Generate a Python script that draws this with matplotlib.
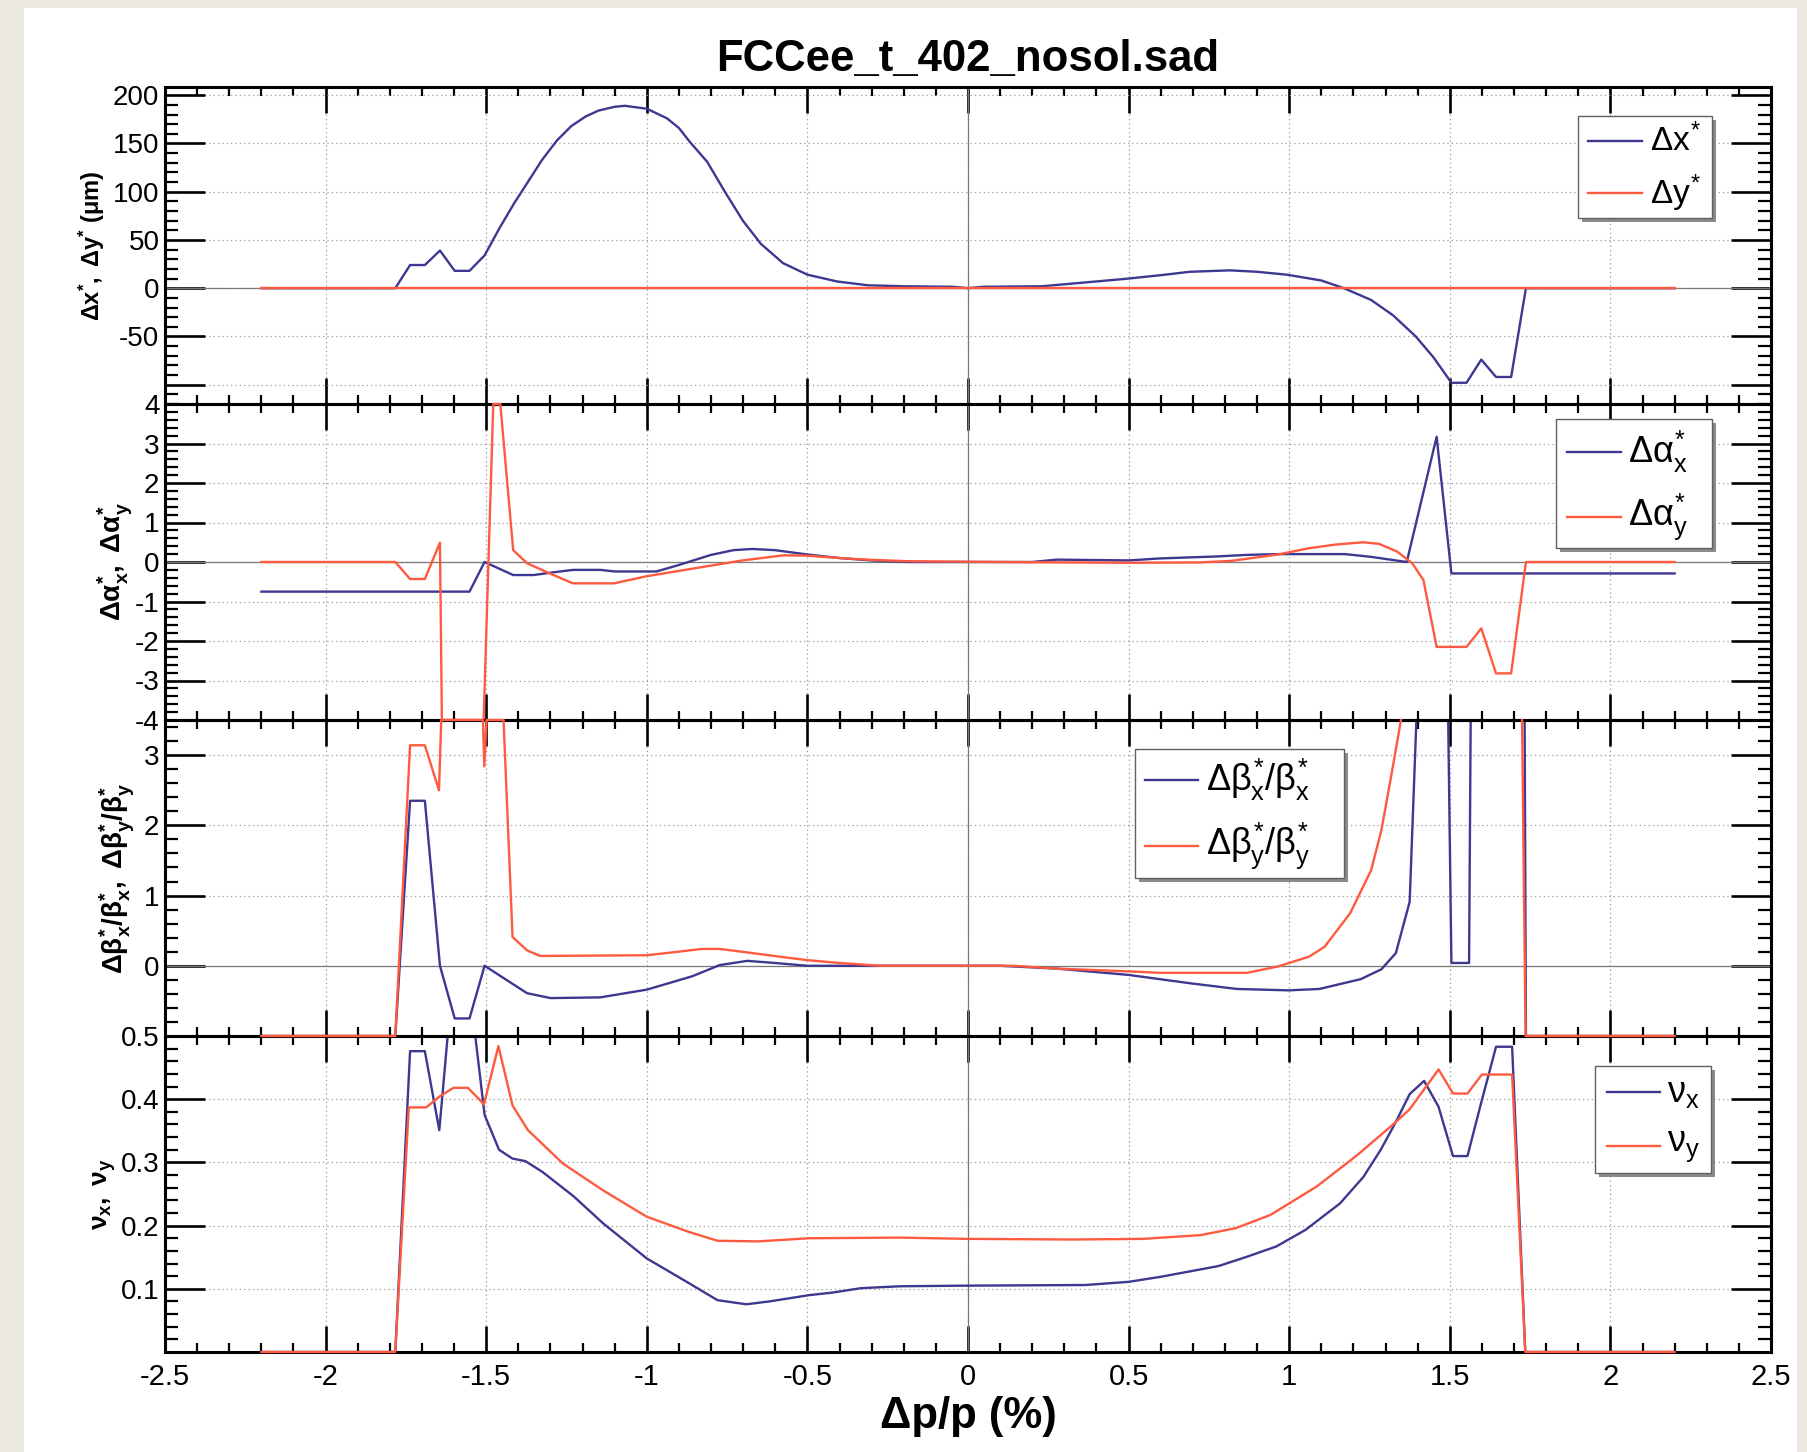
#!/usr/bin/env python3
#
# Off-momentum optics of FCCee_t_402_nosol.sad, ROOT style 4-panel plot.
#

import numpy as np
import matplotlib
matplotlib.use('Agg')
import matplotlib.pyplot as plt
from matplotlib.patches import Rectangle
from matplotlib.lines import Line2D
from matplotlib.ticker import FixedLocator, MultipleLocator, FuncFormatter

nan = np.nan

# ---- data: dp/p in %, one x list per curve ----

# Delta x* (um)
dx_dp = [-2.2, -1.783, -1.737, -1.691, -1.644, -1.598, -1.552, -1.505, -1.459, -1.413,
         -1.38, -1.326, -1.28, -1.235, -1.19, -1.151, -1.1, -1.068, -1.0, -0.937,
         -0.9, -0.867, -0.812, -0.757, -0.701, -0.645, -0.576, -0.5, -0.408, -0.311,
         -0.2, -0.047, 0.0, 0.047, 0.23, 0.4, 0.5, 0.6, 0.69, 0.815,
         0.9, 0.993, 1.1, 1.17, 1.254, 1.323, 1.394, 1.45, 1.505, 1.552,
         1.598, 1.644, 1.691, 1.737, 2.2]
dx_val = [0, 0, 24, 24, 39, 18, 18, 34, 62, 88,
          105, 133, 153, 168, 178, 184, 188, 189, 186, 176,
          166, 152, 131, 100, 70, 46, 26, 14, 7, 3,
          2, 1.5, 0, 1.5, 2, 7, 10, 13.5, 17, 18.5,
          17, 14, 8, 0, -12, -28, -50, -72, -98, -98,
          -74, -92, -92, 0, 0]

# Delta y* (um)
dy_dp = [-2.2, 2.2]
dy_val = [0, 0]

# Delta alpha*_x
dax_dp = [-2.2, -1.552, -1.505, -1.416, -1.352, -1.29, -1.23, -1.144, -1.1, -0.97,
          -0.902, -0.8, -0.73, -0.672, -0.601, -0.5, -0.4, -0.3, -0.187, 0.2,
          0.276, 0.5, 0.597, 0.773, 0.869, 0.965, 1.174, 1.255, 1.366, 1.459,
          1.505, 2.2]
dax_val = [-0.75, -0.75, 0.0, -0.33, -0.33, -0.26, -0.2, -0.2, -0.24, -0.24,
           -0.08, 0.18, 0.3, 0.33, 0.3, 0.19, 0.1, 0.04, 0.0, 0.0,
           0.06, 0.04, 0.09, 0.14, 0.18, 0.2, 0.2, 0.13, 0.0, 3.17,
           -0.29, -0.29]

# Delta alpha*_y (clipped to the frame where it runs off)
day_dp = [-2.2, -1.783, -1.737, -1.691, -1.644, -1.638, -1.508, -1.478, -1.456, -1.416,
          -1.373, -1.316, -1.23, -1.102, -1.0, -0.859, -0.702, -0.573, -0.5, -0.4,
          -0.315, -0.187, 0.1, 0.5, 0.725, 0.822, 0.965, 1.062, 1.143, 1.23,
          1.279, 1.335, 1.383, 1.418, 1.459, 1.552, 1.598, 1.644, 1.691, 1.737,
          2.2]
day_val = [0, 0, -0.43, -0.43, 0.49, -4, -4, 4, 4, 0.3,
           -0.03, -0.24, -0.54, -0.54, -0.36, -0.17, 0.04, 0.17, 0.16, 0.1,
           0.06, 0.02, 0.0, -0.02, -0.01, 0.03, 0.19, 0.35, 0.44, 0.5,
           0.46, 0.27, -0.03, -0.46, -2.15, -2.15, -1.68, -2.82, -2.82, 0.0,
           0.0]

# Delta beta*_x / beta*_x
dbx_dp = [-2.2, -1.783, -1.737, -1.691, -1.644, -1.598, -1.552, -1.505, -1.373, -1.3,
          -1.145, -1.0, -0.859, -0.773, -0.687, -0.601, -0.5, 0.1, 0.276, 0.5,
          0.693, 0.837, 0.998, 1.094, 1.223, 1.287, 1.332, 1.375, 1.396, nan,
          1.495, 1.505, 1.56, 1.565, nan, 1.733, 1.737, 2.2]
dbx_val = [-1, -1, 2.35, 2.35, 0.0, -0.75, -0.75, 0.0, -0.39, -0.46,
           -0.45, -0.34, -0.15, 0.01, 0.07, 0.04, 0.0, 0.0, -0.04, -0.13,
           -0.25, -0.33, -0.35, -0.33, -0.19, -0.05, 0.18, 0.91, 3.5, nan,
           3.5, 0.04, 0.04, 3.5, nan, 3.5, -1, -1]

# Delta beta*_y / beta*_y
dby_dp = [-2.2, -1.783, -1.737, -1.691, -1.647, -1.64, -1.51, -1.506, -1.499, -1.446,
          -1.418, -1.373, -1.332, -1.0, -0.902, -0.83, -0.773, -0.687, -0.587, -0.5,
          -0.4, -0.274, 0.142, 0.276, 0.5, 0.597, 0.869, 0.965, 1.062, 1.11,
          1.19, 1.255, 1.287, 1.319, 1.348, nan, 1.725, 1.736, 2.2]
dby_val = [-1, -1, 3.14, 3.14, 2.5, 3.5, 3.5, 2.84, 3.5, 3.5,
           0.41, 0.22, 0.14, 0.15, 0.2, 0.24, 0.24, 0.19, 0.13, 0.08,
           0.04, 0.0, 0.0, -0.04, -0.08, -0.1, -0.1, -0.01, 0.13, 0.27,
           0.75, 1.36, 1.93, 2.74, 3.5, nan, 3.5, -1, -1]

# tune nu_x
nux_dp = [-2.2, -1.783, -1.737, -1.691, -1.646, -1.62, -1.534, -1.505, -1.46, -1.418,
          -1.378, -1.325, -1.227, -1.137, -1.0, -0.869, -0.78, -0.69, -0.619, -0.494,
          -0.422, -0.333, -0.212, 0.0, 0.365, 0.5, 0.6, 0.78, 0.87, 0.96,
          1.05, 1.158, 1.231, 1.285, 1.33, 1.375, 1.42, 1.465, 1.51, 1.555,
          1.598, 1.644, 1.694, 1.735, 2.2]
nux_val = [0, 0, 0.476, 0.476, 0.351, 0.5, 0.5, 0.375, 0.32, 0.306,
           0.302, 0.285, 0.246, 0.204, 0.148, 0.109, 0.082, 0.0755, 0.08, 0.09,
           0.094, 0.101, 0.104, 0.105, 0.106, 0.111, 0.119, 0.136, 0.151, 0.167,
           0.193, 0.235, 0.277, 0.32, 0.362, 0.408, 0.429, 0.388, 0.31, 0.31,
           0.395, 0.483, 0.483, 0.0, 0.0]

# tune nu_y
nuy_dp = [-2.2, -1.783, -1.741, -1.687, -1.646, -1.602, -1.557, -1.507, -1.462, -1.418,
          -1.37, -1.262, -1.137, -1.0, -0.869, -0.78, -0.655, -0.494, -0.212, 0.0,
          0.329, 0.545, 0.725, 0.834, 0.942, 1.086, 1.213, 1.321, 1.375, 1.465,
          1.51, 1.555, 1.6, 1.694, 1.735, 2.2]
nuy_val = [0, 0, 0.387, 0.387, 0.404, 0.418, 0.418, 0.392, 0.484, 0.39,
           0.351, 0.2985, 0.256, 0.214, 0.19, 0.176, 0.175, 0.18, 0.181, 0.179,
           0.178, 0.179, 0.185, 0.196, 0.217, 0.262, 0.312, 0.359, 0.384, 0.447,
           0.409, 0.409, 0.439, 0.439, 0.0, 0.0]

title = 'FCCee_t_402_nosol.sad'
xlabel = '\u0394p/p (%)'

BLUE = '#3d3890'
RED = '#ff5a40'

W, H = 1808, 1452

plt.rcParams['font.family'] = 'Liberation Sans'
plt.rcParams['mathtext.fontset'] = 'custom'
plt.rcParams['mathtext.rm'] = 'Liberation Sans'
plt.rcParams['mathtext.it'] = 'Liberation Sans'
plt.rcParams['mathtext.bf'] = 'Liberation Sans:bold'
plt.rcParams['axes.unicode_minus'] = False


def fx(px):
    return px / W


def fy(py):
    return 1 - py / H


def fmt(v, pos):
    s = '%g' % round(v, 6)
    return '0' if s == '-0' else s


def draw_key(fig, box, rows, x0, x1, xt, fs):
    l, t, r, b = box
    fig.add_artist(Rectangle((fx(l + 4), fy(b + 4)), (r - l) / W, (b - t) / H,
                             transform=fig.transFigure, facecolor='#8a8a8a',
                             edgecolor='none', zorder=20))
    fig.add_artist(Rectangle((fx(l), fy(b)), (r - l) / W, (b - t) / H,
                             transform=fig.transFigure, facecolor='white',
                             edgecolor='#606060', lw=1.0, zorder=21))
    for color, label, yr in rows:
        fig.add_artist(Line2D([fx(x0), fx(x1)], [fy(yr), fy(yr)],
                              transform=fig.transFigure, color=color, lw=1.7,
                              zorder=22))
        fig.text(fx(xt), fy(yr), label, fontsize=fs, va='center', ha='left',
                 zorder=22)


fig = plt.figure(figsize=(W / 100, H / 100), dpi=100)
fig.patch.set_facecolor('#ebe8e2')
fig.add_artist(Rectangle((fx(24), 0), (1797 - 24) / W, (H - 8) / H,
                         transform=fig.transFigure, facecolor='white',
                         edgecolor='none', zorder=0))

left, right = 165, 1771
edges = [87, 404, 720, 1036, 1352]

panels = [
    dict(ylim=(-120, 208.5), major=[-100, -50, 0, 50, 100, 150, 200],
         hide=[-100], minor=10, zero=True,
         curves=[(dx_dp, dx_val, BLUE), (dy_dp, dy_val, RED)],
         ylabel=r'$\mathbf{\Delta x^{*},\ \Delta y^{*}\ (\mu m)}$', ylx=92, ylfs=17,
         keys=[r'$\Delta x^{*}$', r'$\Delta y^{*}$'],
         box=(1578, 116, 1712, 218), ky=(141, 193), kx=(1588, 1642, 1650), kfs=24),
    dict(ylim=(-4, 4), major=[-4, -3, -2, -1, 0, 1, 2, 3, 4],
         hide=[], minor=0.2, zero=True,
         curves=[(dax_dp, dax_val, BLUE), (day_dp, day_val, RED)],
         ylabel=r'$\mathbf{\Delta\alpha^{*}_{x},\ \Delta\alpha^{*}_{y}}$', ylx=115, ylfs=20,
         keys=[r'$\Delta\alpha^{*}_{x}$', r'$\Delta\alpha^{*}_{y}$'],
         box=(1556, 419, 1712, 548), ky=(452, 517), kx=(1567, 1621, 1628), kfs=26),
    dict(ylim=(-1, 3.5), major=[-1, 0, 1, 2, 3],
         hide=[-1], minor=0.2, zero=True,
         curves=[(dbx_dp, dbx_val, BLUE), (dby_dp, dby_val, RED)],
         ylabel=r'$\mathbf{\Delta\beta^{*}_{x}/\beta^{*}_{x},\ \Delta\beta^{*}_{y}/\beta^{*}_{y}}$',
         ylx=117, ylfs=20,
         keys=[r'$\Delta\beta^{*}_{x}/\beta^{*}_{x}$', r'$\Delta\beta^{*}_{y}/\beta^{*}_{y}$'],
         box=(1135, 749, 1344, 878), ky=(780, 846), kx=(1145, 1198, 1206), kfs=26),
    dict(ylim=(0, 0.5), major=[0, 0.1, 0.2, 0.3, 0.4, 0.5],
         hide=[0], minor=0.02, zero=False,
         curves=[(nux_dp, nux_val, BLUE), (nuy_dp, nuy_val, RED)],
         ylabel=r'$\mathbf{\nu_{x},\ \nu_{y}}$', ylx=105, ylfs=19,
         keys=[r'$\nu_{x}$', r'$\nu_{y}$'],
         box=(1595, 1066, 1711, 1173), ky=(1092, 1146), kx=(1607, 1660, 1667), kfs=26),
]

# panel 3 is drawn last so its clipped red line stays on top of the frame
axes_order = [1, 2, 4, 3]

for i, p in enumerate(panels):
    top, bot = edges[i], edges[i + 1]
    ax = fig.add_axes([fx(left), fy(bot), (right - left) / W, (bot - top) / H])
    ax.set_zorder(axes_order[i])
    ax.set_facecolor('none')
    ax.set_xlim(-2.5, 2.5)
    ax.set_ylim(*p['ylim'])

    ax.xaxis.set_major_locator(MultipleLocator(0.5))
    ax.xaxis.set_minor_locator(MultipleLocator(0.1))
    ax.yaxis.set_major_locator(FixedLocator(p['major']))
    ax.yaxis.set_minor_locator(MultipleLocator(p['minor']))
    hide = p['hide']
    ax.yaxis.set_major_formatter(
        FuncFormatter(lambda v, pos, hide=hide: '' if any(abs(v - h) < 1e-9 for h in hide) else fmt(v, pos)))
    ax.xaxis.set_major_formatter(FuncFormatter(fmt))

    ax.tick_params(axis='x', which='major', direction='in', length=18.5, width=1.9,
                   top=True, bottom=True, labelsize=21, pad=8,
                   labelbottom=(i == 3))
    ax.tick_params(axis='x', which='minor', direction='in', length=6.5, width=1.6,
                   top=True, bottom=True)
    ax.tick_params(axis='y', which='major', direction='in', length=29, width=1.9,
                   left=True, right=True, labelsize=20, pad=4)
    ax.tick_params(axis='y', which='minor', direction='in', length=9.5, width=1.6,
                   left=True, right=True)
    for s in ax.spines.values():
        s.set_linewidth(2.2)

    ax.grid(True, which='major', linestyle=(0, (1, 2.5)), color='#9a9a9a', lw=0.9)
    ax.set_axisbelow(True)
    ax.axvline(0, color='#7a7a7a', lw=0.9, zorder=1.5)
    if p['zero']:
        ax.axhline(0, color='#7a7a7a', lw=0.9, zorder=1.5)

    (xb, yb, cb), (xr, yr, cr) = p['curves']
    ax.plot(xb, yb, color=cb, lw=1.7, zorder=2)
    ax.plot(xr, yr, color=cr, lw=1.7, zorder=3, clip_on=False)

    fig.text(fx(p['ylx']), fy((top + bot) / 2), p['ylabel'], rotation=90,
             ha='center', va='center', fontsize=p['ylfs'])

    x0, x1, xt = p['kx']
    draw_key(fig, p['box'],
             [(BLUE, p['keys'][0], p['ky'][0]), (RED, p['keys'][1], p['ky'][1])],
             x0, x1, xt, p['kfs'])

fig.text(fx(968), fy(71), title, ha='center', va='baseline', fontsize=31.5,
         fontweight='bold')
fig.text(fx(968), fy(1428), xlabel, ha='center', va='baseline', fontsize=31.5,
         fontweight='bold')

plt.savefig('out.png', dpi=100, facecolor=fig.get_facecolor())
